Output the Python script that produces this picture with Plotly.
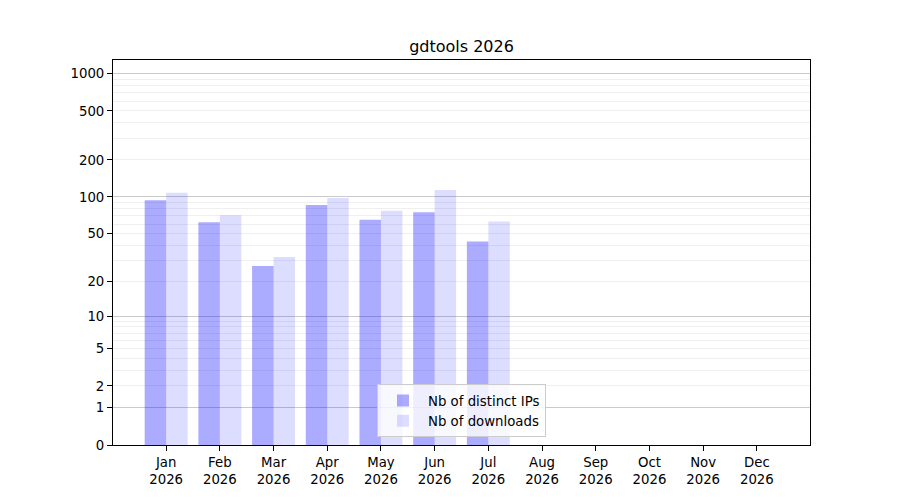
import plotly.graph_objects as go

# monthly stats
months = ["Jan", "Feb", "Mar", "Apr", "May", "Jun", "Jul", "Aug", "Sep", "Oct", "Nov", "Dec"]
year = "2026"
distinct_ips = [94, 62, 27, 86, 65, 75, 43, 0, 0, 0, 0, 0]
downloads = [108, 71, 32, 98, 77, 114, 63, 0, 0, 0, 0, 0]

tick_labels = [0, 1, 2, 5, 10, 20, 50, 100, 200, 500, 1000]
major_grid = [1, 10, 100, 1000]
minor_grid = [m * d for d in (1, 10, 100) for m in range(2, 10)]

# y is drawn on a log(1 + n) scale
def shift(vals):
    return [v + 1 for v in vals]

cats = [f"{m}<br>{year}" for m in months]
font = "DejaVu Sans, Arial, sans-serif"

fig = go.Figure()
fig.add_trace(go.Bar(x=cats, y=shift(distinct_ips), name="Nb of distinct IPs",
                     marker=dict(color="rgba(0,0,255,0.33)", line=dict(width=0))))
fig.add_trace(go.Bar(x=cats, y=shift(downloads), name="Nb of downloads",
                     marker=dict(color="rgba(0,0,255,0.135)", line=dict(width=0))))
# carrier for the darker decade grid
fig.add_trace(go.Scatter(x=cats[:1], y=[1], yaxis="y2", mode="markers",
                         marker=dict(opacity=0), showlegend=False, hoverinfo="skip"))

yrange = [0, 3.111]
fig.update_layout(
    width=900, height=500,
    margin=dict(l=113, r=90, t=60, b=55),
    paper_bgcolor="white", plot_bgcolor="white",
    font=dict(family=font, size=13.3, color="black"),
    title=dict(text="gdtools 2026", x=0.5, xref="paper", y=1 - 46 / 500, yref="container",
               xanchor="center", yanchor="middle", font=dict(size=16)),
    barmode="group", bargap=0.2, bargroupgap=0,
    showlegend=True,
    legend=dict(x=0.5, xanchor="center", y=0.02, yanchor="bottom",
                bgcolor="rgba(255,255,255,0.8)", bordercolor="#cccccc", borderwidth=1,
                font=dict(size=13.3), itemwidth=40, tracegroupgap=0),
    xaxis=dict(type="category", range=[-0.99, 11.99], showgrid=False,
               showline=True, linecolor="black", linewidth=1, mirror=True,
               ticks="outside", ticklen=5, tickcolor="black", zeroline=False),
    yaxis=dict(type="log", range=yrange, showgrid=False,
               tickmode="array", tickvals=shift(tick_labels),
               ticktext=[str(t) for t in tick_labels],
               showline=True, linecolor="black", linewidth=1, mirror=True,
               ticks="outside", ticklen=5, tickcolor="black", zeroline=False,
               minor=dict(tickmode="array", tickvals=shift(minor_grid), ticks="",
                          showgrid=True, gridcolor="rgba(128,128,128,0.13)", gridwidth=1)),
    yaxis2=dict(type="log", range=yrange, overlaying="y", side="left",
                tickmode="array", tickvals=shift(major_grid), showticklabels=False,
                ticks="", showline=False, zeroline=False,
                showgrid=True, gridcolor="rgba(128,128,128,0.42)", gridwidth=1),
)

# drop the browser's default page margin so the figure sits at the window corner
fig.write_html("out.html", config={"displayModeBar": False},
               post_script="document.body.style.margin='0';")
